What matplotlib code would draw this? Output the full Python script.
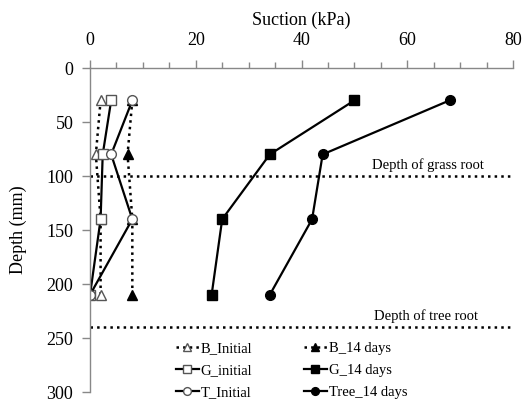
import matplotlib
matplotlib.use("Agg")
import matplotlib.pyplot as plt
from matplotlib.ticker import MultipleLocator

plt.rcParams['font.family'] = ['Liberation Serif', 'DejaVu Serif']

depth = [30, 80, 140, 210]
b_initial = [2, 1.1, 2, 2]
b_14 = [8, 7.1, 8, 8]
g_initial = [4, 2.4, 2, 0]
g_14 = [50, 34, 25, 23]
t_initial = [8, 4, 8, 0]
tree_14 = [68, 44, 42, 34]

grass_root = 100
tree_root = 240

fig = plt.figure(figsize=(5.24, 4.01), dpi=100)
ax = fig.add_axes([0.1718, 0.0224, 0.8072, 0.808])

ms = 7
l1, = ax.plot(b_initial, depth, ':', color='black', lw=1.8, marker='^', mfc='white', mec='#555555', ms=ms, label='B_Initial')
l2, = ax.plot(b_14, depth, ':', color='black', lw=1.8, marker='^', mfc='black', mec='black', ms=ms, label='B_14 days')
l3, = ax.plot(g_initial, depth, '-', color='black', lw=1.6, marker='s', mfc='white', mec='#555555', ms=ms, label='G_initial')
l4, = ax.plot(g_14, depth, '-', color='black', lw=1.6, marker='s', mfc='black', mec='black', ms=ms, label='G_14 days')
l5, = ax.plot(t_initial, depth, '-', color='black', lw=1.6, marker='o', mfc='white', mec='#555555', ms=ms, label='T_Initial')
l6, = ax.plot(tree_14, depth, '-', color='black', lw=1.6, marker='o', mfc='black', mec='black', ms=ms, label='Tree_14 days')

ax.plot([0, 80], [grass_root, grass_root], ':', color='black', lw=1.8)
ax.plot([0, 80], [tree_root, tree_root], ':', color='black', lw=1.8)
ax.text(64, grass_root - 4, 'Depth of grass root', fontsize=10.5, ha='center', va='bottom')
ax.text(63.5, tree_root - 4, 'Depth of tree root', fontsize=10.5, ha='center', va='bottom')

ax.set_xlim(0, 80)
ax.set_ylim(300, 0)
ax.xaxis.set_ticks_position('top')
ax.xaxis.set_label_position('top')
ax.xaxis.set_major_locator(MultipleLocator(20))
ax.xaxis.set_minor_locator(MultipleLocator(5))
ax.yaxis.set_major_locator(MultipleLocator(50))
ax.set_xlabel('Suction (kPa)', fontsize=13, labelpad=5)
ax.set_ylabel('Depth (mm)', fontsize=13, labelpad=14)
ax.tick_params(axis='both', which='major', labelsize=13, color='#888888', length=6, width=1)
ax.tick_params(axis='x', which='minor', color='#888888', length=4, width=1)
ax.tick_params(axis='x', which='major', pad=8)
ax.tick_params(axis='y', which='major', pad=6)
for s in ['right', 'bottom']:
    ax.spines[s].set_visible(False)
for s in ['left', 'top']:
    ax.spines[s].set_color('#888888')
    ax.spines[s].set_linewidth(1)

leg = fig.legend(handles=[l1, l3, l5, l2, l4, l6], ncol=2, loc='upper left',
                 bbox_to_anchor=(0.31, 0.18), frameon=False, fontsize=10.5,
                 handlelength=1.6, handletextpad=0.1, columnspacing=3.55,
                 labelspacing=0.6, markerscale=0.8)

fig.savefig('out.png', dpi=100)
